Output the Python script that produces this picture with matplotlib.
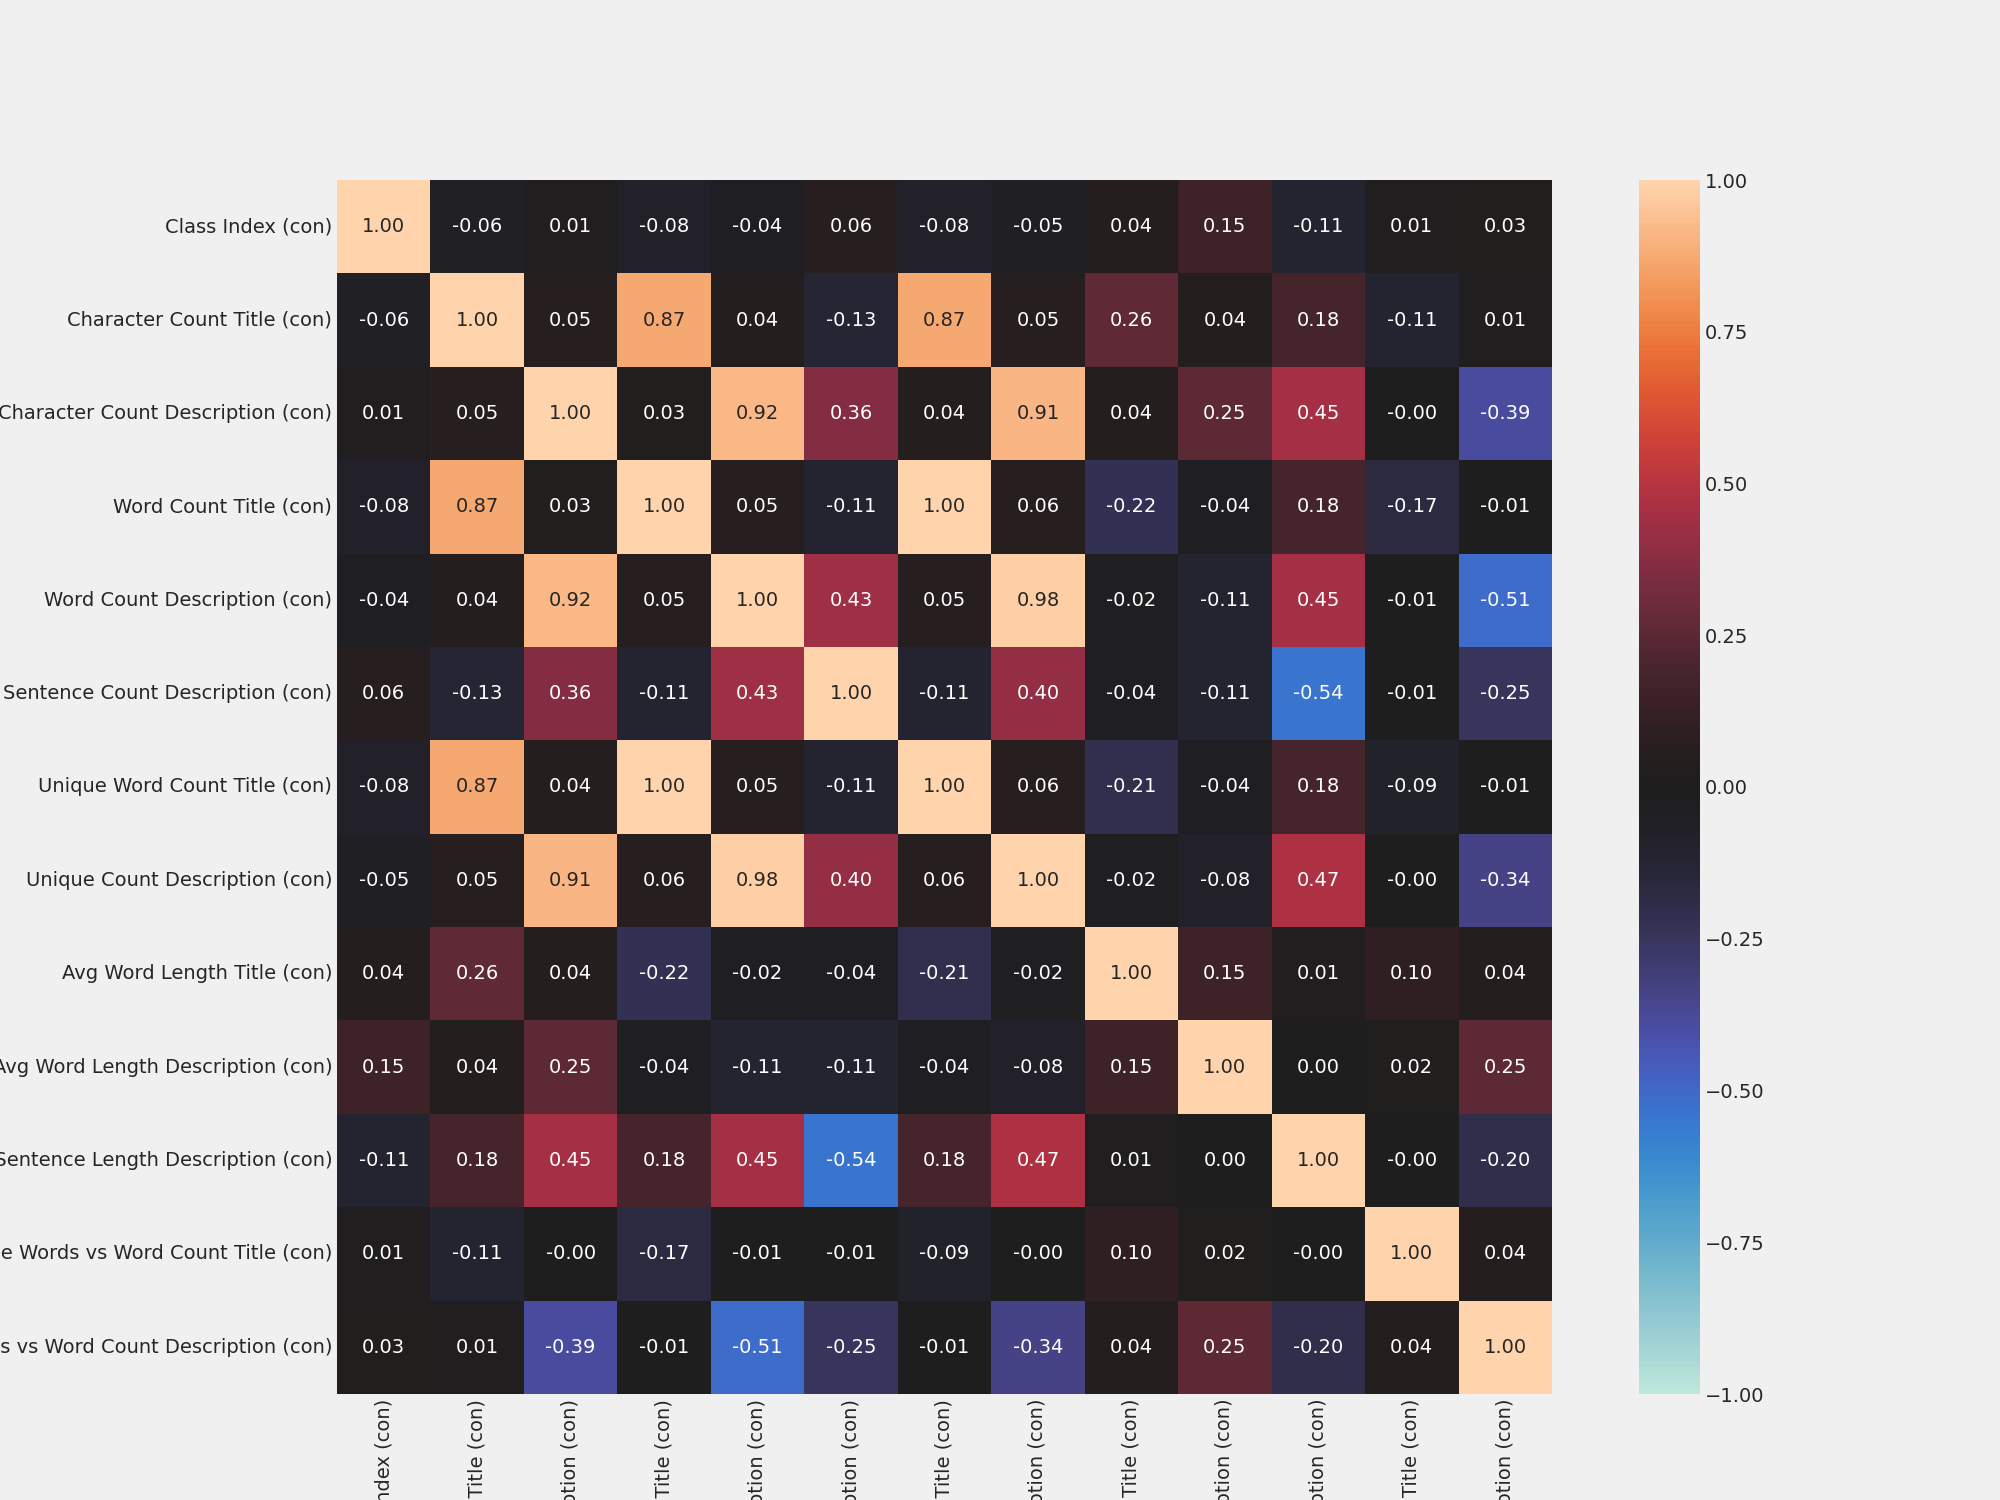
import numpy as np
import matplotlib
matplotlib.use("Agg")
import matplotlib.pyplot as plt
import seaborn as sns

labels = [
    "Class Index (con)",
    "Character Count Title (con)",
    "Character Count Description (con)",
    "Word Count Title (con)",
    "Word Count Description (con)",
    "Sentence Count Description (con)",
    "Unique Word Count Title (con)",
    "Unique Count Description (con)",
    "Avg Word Length Title (con)",
    "Avg Word Length Description (con)",
    "Avg Sentence Length Description (con)",
    "Unique Words vs Word Count Title (con)",
    "Unique Words vs Word Count Description (con)",
]

row_class_index = [1.00, -0.06, 0.01, -0.08, -0.04, 0.06, -0.08, -0.05, 0.04, 0.15, -0.11, 0.01, 0.03]
row_char_title = [-0.06, 1.00, 0.05, 0.87, 0.04, -0.13, 0.87, 0.05, 0.26, 0.04, 0.18, -0.11, 0.01]
row_char_desc = [0.01, 0.05, 1.00, 0.03, 0.92, 0.36, 0.04, 0.91, 0.04, 0.25, 0.45, -0.001, -0.39]
row_word_title = [-0.08, 0.87, 0.03, 1.00, 0.05, -0.11, 1.00, 0.06, -0.22, -0.04, 0.18, -0.17, -0.01]
row_word_desc = [-0.04, 0.04, 0.92, 0.05, 1.00, 0.43, 0.05, 0.98, -0.02, -0.11, 0.45, -0.01, -0.51]
row_sent_desc = [0.06, -0.13, 0.36, -0.11, 0.43, 1.00, -0.11, 0.40, -0.04, -0.11, -0.54, -0.01, -0.25]
row_uword_title = [-0.08, 0.87, 0.04, 1.00, 0.05, -0.11, 1.00, 0.06, -0.21, -0.04, 0.18, -0.09, -0.01]
row_ucount_desc = [-0.05, 0.05, 0.91, 0.06, 0.98, 0.40, 0.06, 1.00, -0.02, -0.08, 0.47, -0.001, -0.34]
row_avgw_title = [0.04, 0.26, 0.04, -0.22, -0.02, -0.04, -0.21, -0.02, 1.00, 0.15, 0.01, 0.10, 0.04]
row_avgw_desc = [0.15, 0.04, 0.25, -0.04, -0.11, -0.11, -0.04, -0.08, 0.15, 1.00, 0.00, 0.02, 0.25]
row_avgs_desc = [-0.11, 0.18, 0.45, 0.18, 0.45, -0.54, 0.18, 0.47, 0.01, 0.00, 1.00, -0.001, -0.20]
row_uvw_title = [0.01, -0.11, -0.001, -0.17, -0.01, -0.01, -0.09, -0.001, 0.10, 0.02, -0.001, 1.00, 0.04]
row_uvw_desc = [0.03, 0.01, -0.39, -0.01, -0.51, -0.25, -0.01, -0.34, 0.04, 0.25, -0.20, 0.04, 1.00]

corr = np.array([
    row_class_index, row_char_title, row_char_desc, row_word_title, row_word_desc,
    row_sent_desc, row_uword_title, row_ucount_desc, row_avgw_title, row_avgw_desc,
    row_avgs_desc, row_uvw_title, row_uvw_desc,
])

bg = "#f0f0f0"
txt = "#262626"
plt.rcParams["font.family"] = ["DejaVu Sans"]
plt.rcParams["font.size"] = 14
plt.rcParams["text.color"] = txt
plt.rcParams["xtick.color"] = txt
plt.rcParams["ytick.color"] = txt

fig = plt.figure(figsize=(20, 15), dpi=100, facecolor=bg)
ax = fig.add_axes([337 / 2000, 1 - 1394 / 1500, (1552 - 337) / 2000, (1394 - 180) / 1500])
cax = fig.add_axes([1639 / 2000, 1 - 1394 / 1500, 61 / 2000, (1394 - 180) / 1500])
ax.set_facecolor(bg)

sns.heatmap(corr, ax=ax, cbar_ax=cax, cmap="icefire", vmin=-1, vmax=1,
            annot=True, fmt=".2f", annot_kws={"fontsize": 14},
            xticklabels=labels, yticklabels=labels)

ax.tick_params(axis="both", length=0, labelsize=14, pad=3.5)
ax.set_xticklabels(labels, rotation=90)
ax.set_yticklabels(labels, rotation=0)
cax.tick_params(length=0, labelsize=14, pad=3.5)
cax.set_yticks([-1, -0.75, -0.5, -0.25, 0, 0.25, 0.5, 0.75, 1])
cax.set_yticklabels(["\u22121.00", "\u22120.75", "\u22120.50", "\u22120.25", "0.00", "0.25", "0.50", "0.75", "1.00"])
for s in cax.spines.values():
    s.set_visible(False)

fig.savefig("out.png", dpi=100, facecolor=bg)
